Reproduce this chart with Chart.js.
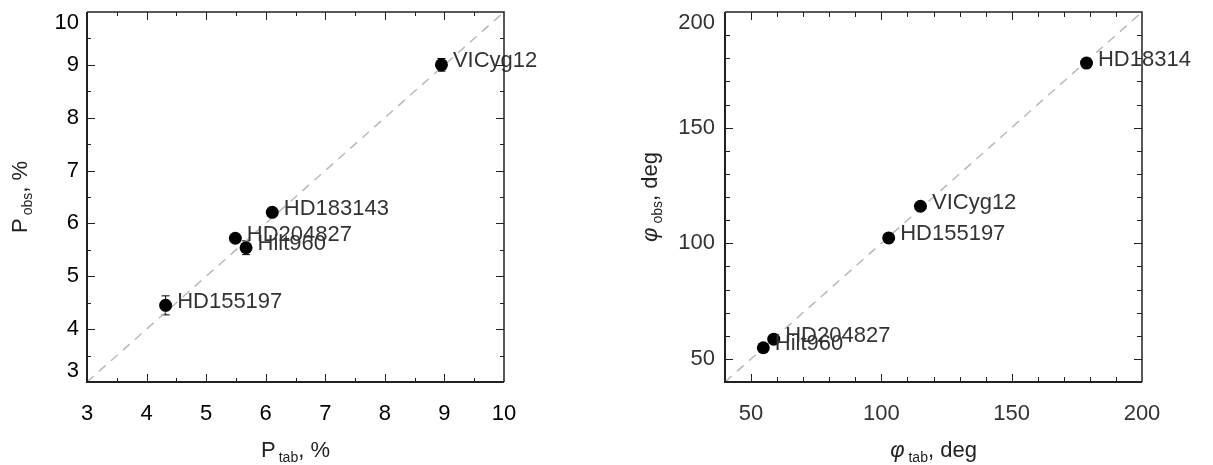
<!DOCTYPE html>
<html>
<head>
<meta charset="utf-8">
<script src="https://cdn.jsdelivr.net/npm/chart.js@4.4.1/dist/chart.umd.min.js"></script>
<style>
  html, body { margin: 0; padding: 0; background: #fff; }
  #wrap { position: relative; width: 1213px; height: 465px; overflow: hidden; }
  canvas { position: absolute; top: 0; }
</style>
</head>
<body>
<div id="wrap">
  <canvas id="polChart" width="600" height="465" style="left:0"></canvas>
  <canvas id="angChart" width="613" height="465" style="left:600px"></canvas>
</div>
<script>
const FONT = "'Liberation Sans', Arial, sans-serif";

// --- left panel: degree of polarization, %
const pNames = ['VICyg12', 'HD183143', 'HD204827', 'Hilt960', 'HD155197'];
const pTab = [8.95, 6.11, 5.49, 5.67, 4.32];
const pObs = [9.00, 6.21, 5.72, 5.54, 4.45];
const pErr = [0.12, 0.06, 0.06, 0.13, 0.18];
const pDiag = [3, 10];
const pTicks = [3, 4, 5, 6, 7, 8, 9, 10];
const pMinor = [3.5, 4.5, 5.5, 6.5, 7.5, 8.5, 9.5];

// --- right panel: polarization angle, deg
const phiNames = ['HD18314', 'VICyg12', 'HD155197', 'HD204827', 'Hilt960'];
const phiTab = [178.7, 115.0, 102.8, 58.7, 54.7];
const phiObs = [177.9, 116.0, 102.3, 58.5, 54.8];
const phiDiag = [40, 200];
const phiTicks = [50, 100, 150, 200];
const phiMinor = [60, 70, 80, 90, 110, 120, 130, 140, 160, 170, 180, 190];

// IDL-like box: frame on all sides, ticks pointing inwards
function framePlugin(major, minor, majLen, minLen) {
    return {
        id: 'frame',
        afterDraw(chart) {
            const { ctx, chartArea: a, scales: { x, y } } = chart;
            ctx.save();
            ctx.strokeStyle = '#222';
            ctx.lineWidth = 1;
            const mark = (vals, len) => {
                ctx.beginPath();
                vals.forEach(v => {
                    const px = Math.round(x.getPixelForValue(v)) + 0.5;
                    if (px > a.left + 1 && px < a.right - 1) {
                        ctx.moveTo(px, a.bottom); ctx.lineTo(px, a.bottom - len);
                        ctx.moveTo(px, a.top); ctx.lineTo(px, a.top + len);
                    }
                    const py = Math.round(y.getPixelForValue(v)) + 0.5;
                    if (py > a.top + 1 && py < a.bottom - 1) {
                        ctx.moveTo(a.left, py); ctx.lineTo(a.left + len, py);
                        ctx.moveTo(a.right, py); ctx.lineTo(a.right - len, py);
                    }
                });
                ctx.stroke();
            };
            mark(major, majLen);
            mark(minor, minLen);
            ctx.lineWidth = 2;
            ctx.beginPath();
            ctx.moveTo(a.left, a.top); ctx.lineTo(a.left, a.bottom); ctx.lineTo(a.right, a.bottom);
            ctx.stroke();
            ctx.lineWidth = 1.5;
            ctx.beginPath();
            ctx.moveTo(a.left, a.top); ctx.lineTo(a.right, a.top); ctx.lineTo(a.right, a.bottom);
            ctx.stroke();
            ctx.restore();
        }
    };
}

function labelPlugin(names) {
    return {
        id: 'pointLabels',
        afterDatasetsDraw(chart) {
            const { ctx } = chart;
            const meta = chart.getDatasetMeta(0);
            ctx.save();
            ctx.font = `22px ${FONT}`;
            ctx.fillStyle = '#333';
            ctx.textAlign = 'left';
            ctx.textBaseline = 'alphabetic';
            meta.data.forEach((pt, i) => ctx.fillText(names[i], pt.x + 11.5, pt.y + 2.5));
            ctx.restore();
        }
    };
}

function errorPlugin(vals, errs) {
    return {
        id: 'errorBars',
        beforeDatasetsDraw(chart) {
            const { ctx, scales: { y } } = chart;
            const meta = chart.getDatasetMeta(0);
            ctx.save();
            ctx.strokeStyle = '#000';
            ctx.lineWidth = 1;
            meta.data.forEach((pt, i) => {
                const top = y.getPixelForValue(vals[i] + errs[i]);
                const bot = y.getPixelForValue(vals[i] - errs[i]);
                ctx.beginPath();
                ctx.moveTo(pt.x, top); ctx.lineTo(pt.x, bot);
                ctx.moveTo(pt.x - 4, top); ctx.lineTo(pt.x + 4, top);
                ctx.moveTo(pt.x - 4, bot); ctx.lineTo(pt.x + 4, bot);
                ctx.stroke();
            });
            ctx.restore();
        }
    };
}

// axis titles with subscripts (Chart.js titles can't do those)
function drawParts(ctx, parts, cx, cy) {
    const fontOf = p => `${p.italic ? 'italic ' : ''}${p.size}px ${FONT}`;
    let w = 0;
    parts.forEach(p => { ctx.font = fontOf(p); w += ctx.measureText(p.t).width + (p.gap || 0); });
    let x = cx - w / 2;
    parts.forEach(p => {
        ctx.font = fontOf(p);
        ctx.fillText(p.t, x, cy + (p.dy || 0));
        x += ctx.measureText(p.t).width + (p.gap || 0);
    });
}

function titlePlugin(xParts, yParts, yBaseX, xBaseY) {
    return {
        id: 'axisTitles',
        afterDraw(chart) {
            const { ctx, chartArea: a } = chart;
            ctx.save();
            ctx.fillStyle = '#222';
            ctx.textBaseline = 'alphabetic';
            ctx.textAlign = 'left';
            drawParts(ctx, xParts, (a.left + a.right) / 2, xBaseY);
            ctx.translate(yBaseX, (a.top + a.bottom) / 2);
            ctx.rotate(-Math.PI / 2);
            drawParts(ctx, yParts, 0, 0);
            ctx.restore();
        }
    };
}

function makeChart(id, c) {
    const tickFont = { family: FONT, size: 22, lineHeight: 1 };
    return new Chart(document.getElementById(id), {
        type: 'scatter',
        data: {
            datasets: [{
                data: c.xs.map((v, i) => ({ x: v, y: c.ys[i] })),
                backgroundColor: '#000',
                borderWidth: 0,
                pointRadius: 6.5
            }, {
                data: c.diag.map(v => ({ x: v, y: v })),
                showLine: true,
                borderColor: '#b9b9b9',
                borderWidth: 1.5,
                borderDash: [9, 7],
                pointRadius: 0
            }]
        },
        options: {
            responsive: false,
            animation: false,
            events: [],
            layout: { padding: { left: 0, top: 12, right: c.padRight, bottom: 0 } },
            plugins: { legend: { display: false }, tooltip: { enabled: false } },
            scales: {
                x: {
                    type: 'linear', min: c.min, max: c.max,
                    grid: { display: false, drawTicks: false }, border: { display: false },
                    afterBuildTicks: s => { s.ticks = c.ticks.map(v => ({ value: v })); },
                    afterFit: s => { s.height = 83; s.paddingLeft = 0; s.paddingRight = 0; },
                    ticks: {
                        autoSkip: false, maxRotation: 0, padding: 19, color: c.tickColor,
                        font: { family: FONT, size: 22, lineHeight: 1.2 },
                        callback: v => String(v)
                    }
                },
                y: {
                    type: 'linear', min: c.min, max: c.max,
                    grid: { display: false, drawTicks: false }, border: { display: false },
                    afterBuildTicks: s => { s.ticks = c.ticks.map(v => ({ value: v })); },
                    afterFit: s => { s.width = c.yWidth; s.paddingTop = 0; s.paddingBottom = 0; },
                    ticks: {
                        autoSkip: false, padding: c.yPad, color: c.tickColor, font: tickFont,
                        // end labels are pushed inside the box, like IDL does
                        callback: v => v === c.max ? ['', String(v)] : v === c.min ? [String(v), ''] : String(v)
                    }
                }
            }
        },
        plugins: c.plugins
    });
}

makeChart('polChart', {
    xs: pTab, ys: pObs, diag: pDiag, ticks: pTicks, min: 3, max: 10,
    padRight: 96, yWidth: 87, yPad: 8, tickColor: '#000',
    plugins: [
        errorPlugin(pObs, pErr),
        labelPlugin(pNames),
        framePlugin(pTicks, pMinor, 8, 4),
        titlePlugin(
            [{ t: 'P', size: 22, gap: 3 }, { t: 'tab', size: 14, dy: 5 }, { t: ', %', size: 22 }],
            [{ t: 'P', size: 22, gap: 3 }, { t: 'obs', size: 14, dy: 5 }, { t: ', %', size: 22 }],
            27, 457)
    ]
});

makeChart('angChart', {
    xs: phiTab, ys: phiObs, diag: phiDiag, ticks: phiTicks, min: 40, max: 200,
    padRight: 71, yWidth: 125, yPad: 10, tickColor: '#333',
    plugins: [
        labelPlugin(phiNames),
        framePlugin(phiTicks, phiMinor, 8, 5),
        titlePlugin(
            [{ t: 'φ', size: 22, italic: true, gap: 4 }, { t: 'tab', size: 14, dy: 5 }, { t: ', deg', size: 22 }],
            [{ t: 'φ', size: 22, italic: true, gap: 4 }, { t: 'obs', size: 14, dy: 5 }, { t: ', deg', size: 22 }],
            57, 457)
    ]
});
</script>
</body>
</html>
